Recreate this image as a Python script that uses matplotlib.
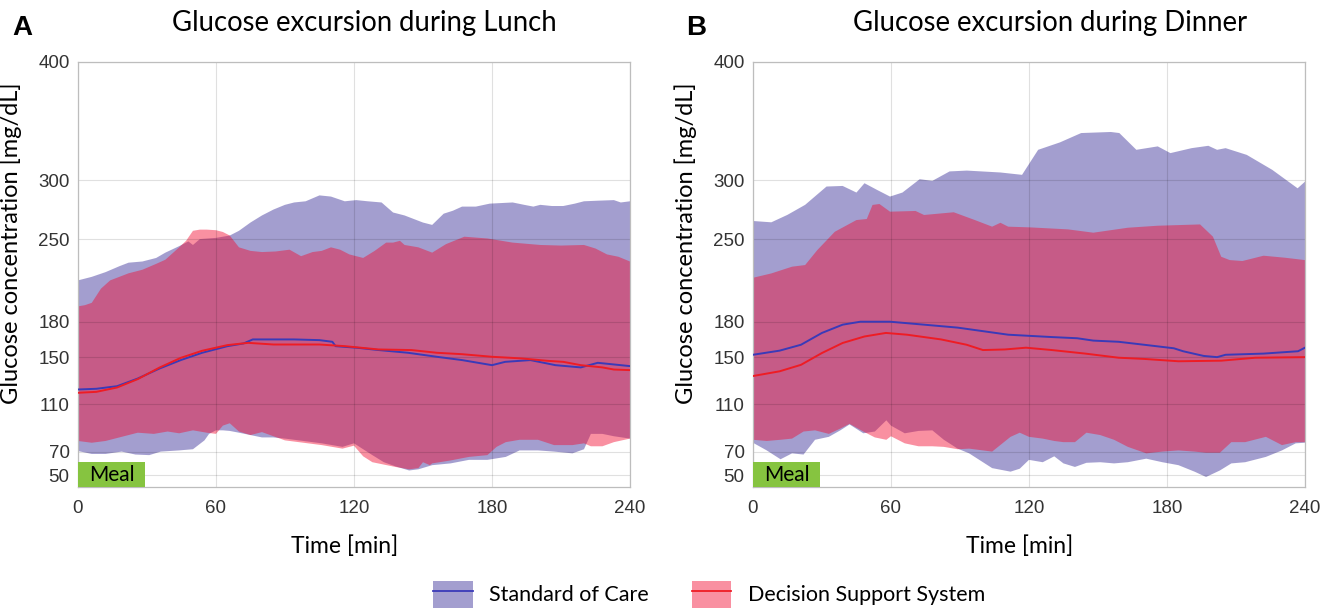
import matplotlib
matplotlib.use("Agg")
import matplotlib.pyplot as plt
from matplotlib import font_manager
from matplotlib.patches import Patch, Rectangle
from matplotlib.lines import Line2D
import numpy as np

# ---- data ----
# Panel A: lunch
soc_hi_L_t = [0, 6, 12, 18, 22, 28, 34, 38, 44, 48, 50, 53, 60, 66, 70, 75, 80, 85, 90, 94, 99, 105, 110, 116,
              121, 126, 132, 137, 142, 146, 150, 154, 159, 163, 167, 173, 179, 184, 189, 194, 198, 201, 206, 211,
              216, 220, 226, 233, 236, 240]
soc_hi_L = [215, 218, 222, 227, 230, 231, 234, 238.5, 244, 248, 245, 250, 251, 253, 257, 264, 270, 275, 279, 281,
            282, 287, 286, 282, 283, 282, 281, 272.5, 270, 267, 264, 262, 271.5, 274, 277.5, 277.5, 280, 280.5,
            281, 279, 277.5, 279, 278, 278, 280, 282, 282.5, 283, 281, 282]
soc_lo_L_t = [0, 6, 12, 19, 25, 31, 36, 44, 50, 55, 57, 60, 63, 66, 70, 75, 80, 85, 90, 98, 106, 115, 120, 124,
              128, 133, 138, 144, 148, 154, 162, 170, 178, 186, 192, 200, 207, 215, 220, 223, 228, 233, 240]
soc_lo_L = [70.5, 68, 68, 70, 67.5, 67, 70, 71, 72, 79.5, 85, 88, 88, 87.5, 86, 84, 82, 82, 81, 79, 77, 74, 77,
            72, 67, 61, 57.5, 54, 55, 58.5, 60, 63, 63, 65.5, 71, 71, 70, 68.5, 72, 85, 85, 83, 81]
dss_hi_L_t = [0, 3, 6, 10, 14, 18, 22, 28, 34, 38, 44, 47, 50, 53, 56, 60, 63, 66, 70, 75, 80, 86, 92, 97, 102,
              106, 110, 114, 118, 124, 129, 134, 137, 140, 142, 148, 154, 160, 168, 178, 189, 201, 210, 220, 225,
              230, 235, 240]
dss_hi_L = [193, 194, 196, 208, 215, 218, 221, 224, 229, 232.5, 243, 248.5, 257, 258, 258, 257.5, 256, 253, 243,
            240, 239, 239.5, 241, 235.5, 239, 240, 243, 241, 237, 234, 240, 247, 247, 248.5, 245, 243, 238.5,
            245.7, 252, 250.5, 247, 245, 244.5, 245, 242, 237, 235, 231]
dss_lo_L_t = [0, 6, 12, 19, 26, 33, 39, 44, 50, 56, 60, 63, 66, 70, 75, 80, 85, 90, 98, 106, 115, 120, 124, 128,
              133, 138, 144, 148, 150, 153, 154, 162, 170, 178, 182, 186, 192, 200, 207, 215, 220, 223, 228, 233,
              240]
dss_lo_L = [79, 77.5, 79, 82.5, 86, 85, 87, 85.5, 88, 86, 85, 92, 94, 87, 84, 86.5, 83, 79.5, 77.5, 75.5, 72.5,
            75, 66, 61, 59, 57, 55, 56, 61, 58.5, 60, 62.5, 65.5, 67, 74, 78, 80, 80, 75.5, 75.5, 77, 74.5, 74.5,
            78, 81]
soc_mean_L_t = [0, 8, 17, 26, 35.5, 44.7, 54, 65, 72, 76, 85, 94, 105, 110.6, 112, 121.6, 130.7, 143.5, 156,
                167, 180, 185.7, 196.7, 207.6, 218.6, 226, 240]
soc_mean_L = [122.6, 123.2, 125.4, 131.9, 140.4, 147.5, 153.7, 159.3, 161.6, 165, 165, 165, 164.4, 163, 159.3,
              157.9, 156, 153.7, 150.3, 147.5, 143.2, 146, 147.5, 143.2, 141.3, 145.2, 142.4]
dss_mean_L_t = [0, 8, 17, 26, 35.5, 44.7, 54, 65, 74, 85, 94, 105, 116, 130.7, 145, 156, 167, 180, 193, 204,
                211, 218.6, 228, 233, 240]
dss_mean_L = [119.8, 120.6, 124.3, 131.4, 141.2, 149.4, 155.4, 160.2, 162.1, 160.7, 160.7, 160.7, 159.3, 156.5,
              156, 153.7, 152.5, 150.3, 148.9, 146.9, 146, 143.2, 141.3, 139.5, 139]

# Panel B: dinner
soc_hi_R_t = [0, 8, 15, 22.7, 32, 39, 45, 48.5, 54, 59.6, 65, 72.5, 78, 85.5, 93, 107.6, 117, 124, 133.5, 142.7,
              155.6, 159.3, 166.7, 176, 181.5, 190.7, 198, 201.8, 205.5, 214.7, 225.8, 236.8, 240]
soc_hi_R = [265.3, 264.2, 270.5, 279, 294.5, 295, 289.4, 297.3, 291.6, 286, 289.4, 300.7, 299.3, 307.3, 308,
            306.4, 304.4, 325.6, 331.9, 339.8, 340.7, 339.8, 325.6, 328.5, 322.8, 327, 329, 325.6, 327, 321.3,
            308.6, 293, 298.6]
soc_lo_R_t = [0, 6, 12, 17, 22, 27, 33, 38, 42, 48, 53, 58, 60, 66, 72, 78, 83, 89, 94, 104, 112, 116, 120, 126,
              131, 135, 140, 145, 151, 157, 163, 171, 178, 185, 192, 197, 203, 208, 214, 223, 230, 236, 240]
soc_lo_R = [77.5, 71, 63.5, 68.5, 67.5, 80, 82.5, 88, 93, 85.5, 87, 96.5, 92, 85.5, 87.5, 88, 80, 72.5, 68.5,
            56, 53, 55.5, 63, 61, 66, 60, 57, 60.5, 61, 60, 61, 64, 61, 58.5, 53, 48.5, 54, 60, 61, 65.5, 71, 77,
            77.5]
dss_hi_R_t = [0, 8, 17, 22.7, 28, 35.6, 45, 49.5, 52, 55, 59.6, 70.7, 74.4, 87.3, 96.5, 104, 107.6, 111, 120.5,
              137, 148, 163, 176, 194.4, 200, 203.6, 207.3, 212.8, 222, 231.3, 240]
dss_hi_R = [217.2, 220.9, 226.6, 228, 240.7, 256.2, 266.1, 267, 278.9, 279.7, 273.2, 273.8, 270.4, 272.7, 266.1,
            260.5, 263.8, 260.5, 259.9, 258.2, 255.4, 259.6, 261.3, 262.4, 252, 235, 232.2, 231.4, 235.9, 234.2,
            232.2]
dss_lo_R_t = [0, 6, 12, 17, 22, 27, 33, 38, 42, 48, 53, 58, 60, 66, 72, 78, 83, 89, 94, 104, 112, 116, 120, 126,
              131, 135, 140, 145, 151, 157, 163, 171, 178, 185, 192, 197, 203, 208, 214, 223, 230, 236, 240]
dss_lo_R = [80, 79, 80, 81, 87, 88, 85, 89.5, 93.5, 87, 82, 80, 83, 77, 74.5, 74.5, 74, 72, 72.5, 70, 82.5, 86,
            82.5, 81, 79, 78, 78, 86, 84, 80, 74, 68.5, 70, 71, 70, 69, 69, 78, 78, 82.5, 75.5, 78, 78]
soc_mean_R_t = [0, 11.6, 20.9, 30, 39, 46.7, 59.6, 74.4, 89, 100, 111, 130, 141, 148, 159, 170, 183, 187, 196,
                201.8, 205.5, 222, 237, 240]
soc_mean_R = [152, 155.5, 160.5, 170.5, 177.5, 180, 180, 177.5, 175, 172, 169, 167, 166, 164, 163, 160.5, 157.5,
              155, 151, 150, 152, 153, 155, 158]
dss_mean_R_t = [0, 11.6, 20.9, 30, 39, 48.5, 57.8, 67, 81.8, 92.9, 100, 109.5, 118.7, 130, 144.5, 159, 170, 185,
                203.6, 218.4, 240]
dss_mean_R = [134, 138, 143.5, 153.5, 162, 167.5, 170.5, 169, 165, 160.5, 156, 156.5, 158, 156, 153, 149.5,
              148.5, 146.5, 147, 149.5, 150]

yticks = [50, 70, 110, 150, 180, 250, 300, 400]
xticks = [0, 60, 120, 180, 240]
meal_span = (0, 29)
titles = ["Glucose excursion during Lunch", "Glucose excursion during Dinner"]
panel_labels = ["A", "B"]
series_names = ["Standard of Care", "Decision Support System"]

# ---- styling ----
names = {f.name for f in font_manager.fontManager.ttflist}
tick_font = "Liberation Sans Narrow" if "Liberation Sans Narrow" in names else "Liberation Sans"
text_font = "Lato"

soc_fill, soc_alpha = "#493fa1", 0.5
dss_fill, dss_alpha = "#f20a30", 0.45
soc_line = "#3a3ab8"
dss_line = "#ee1c24"

fig = plt.figure(figsize=(13.35, 6.16), dpi=100)
ax_pos = [[0.0584, 0.2094, 0.4135, 0.690], [0.564, 0.2094, 0.4135, 0.690]]

panels = [
    (soc_hi_L_t, soc_hi_L, soc_lo_L_t, soc_lo_L, dss_hi_L_t, dss_hi_L, dss_lo_L_t, dss_lo_L,
     soc_mean_L_t, soc_mean_L, dss_mean_L_t, dss_mean_L),
    (soc_hi_R_t, soc_hi_R, soc_lo_R_t, soc_lo_R, dss_hi_R_t, dss_hi_R, dss_lo_R_t, dss_lo_R,
     soc_mean_R_t, soc_mean_R, dss_mean_R_t, dss_mean_R),
]

for i, p in enumerate(panels):
    (sh_t, sh, sl_t, sl, dh_t, dh, dl_t, dl, sm_t, sm, dm_t, dm) = p
    ax = fig.add_axes(ax_pos[i])

    # bands: upper edge forward, lower edge backward
    ax.fill(np.r_[sh_t, sl_t[::-1]], np.r_[sh, sl[::-1]], color=soc_fill, alpha=soc_alpha, lw=0)
    ax.fill(np.r_[dh_t, dl_t[::-1]], np.r_[dh, dl[::-1]], color=dss_fill, alpha=dss_alpha, lw=0)
    ax.plot(sm_t, sm, color=soc_line, lw=1.4, zorder=3)
    ax.plot(dm_t, dm, color=dss_line, lw=1.4, zorder=3)

    ax.set_xlim(0, 240)
    ax.set_ylim(40, 400)
    ax.add_patch(Rectangle((meal_span[0], 40), meal_span[1] - meal_span[0], 21,
                           facecolor="#86c440", edgecolor="none", zorder=4))
    ax.text(meal_span[0] + 5, 50.5, "Meal", fontsize=15, family=text_font, va="center", zorder=5)

    ax.set_xticks(xticks)
    ax.set_yticks(yticks)
    ax.tick_params(length=0, labelsize=13.5, colors="#333333")
    ax.tick_params(axis="x", pad=9)
    ax.tick_params(axis="y", pad=6)
    for lab in ax.get_xticklabels() + ax.get_yticklabels():
        lab.set_family(tick_font)
    ax.grid(True, color="#000000", alpha=0.12, lw=0.8)
    for s in ax.spines.values():
        s.set_color("#bdbdbd")
        s.set_linewidth(0.9)

    ax.set_xlabel("Time [min]", fontsize=16.5, family=text_font)
    ax.xaxis.set_label_coords(0.483, -0.113)
    ax.set_ylabel("Glucose concentration [mg/dL]", fontsize=17, family=text_font)
    ax.yaxis.set_label_coords(-0.101, 0.574)

    fig.text([0.273, 0.7865][i], 0.962, titles[i], fontsize=19.8, family=text_font, ha="center", va="center")
    fig.text([0.009, 0.514][i], 0.955, panel_labels[i], fontsize=20, fontweight="bold",
             family="Liberation Sans", ha="left", va="center")

handles = [
    (Patch(facecolor=soc_fill, alpha=soc_alpha, lw=0), Line2D([], [], color=soc_line, lw=1.3)),
    (Patch(facecolor=dss_fill, alpha=dss_alpha, lw=0), Line2D([], [], color=dss_line, lw=1.3)),
]
fig.legend(handles, series_names, loc="center", bbox_to_anchor=(0.531, 0.035), ncol=2, frameon=False,
           prop={"family": text_font, "size": 15.5}, handlelength=1.85, handleheight=1.6,
           columnspacing=2.0, handletextpad=0.75)

fig.savefig("out.png", dpi=100)
